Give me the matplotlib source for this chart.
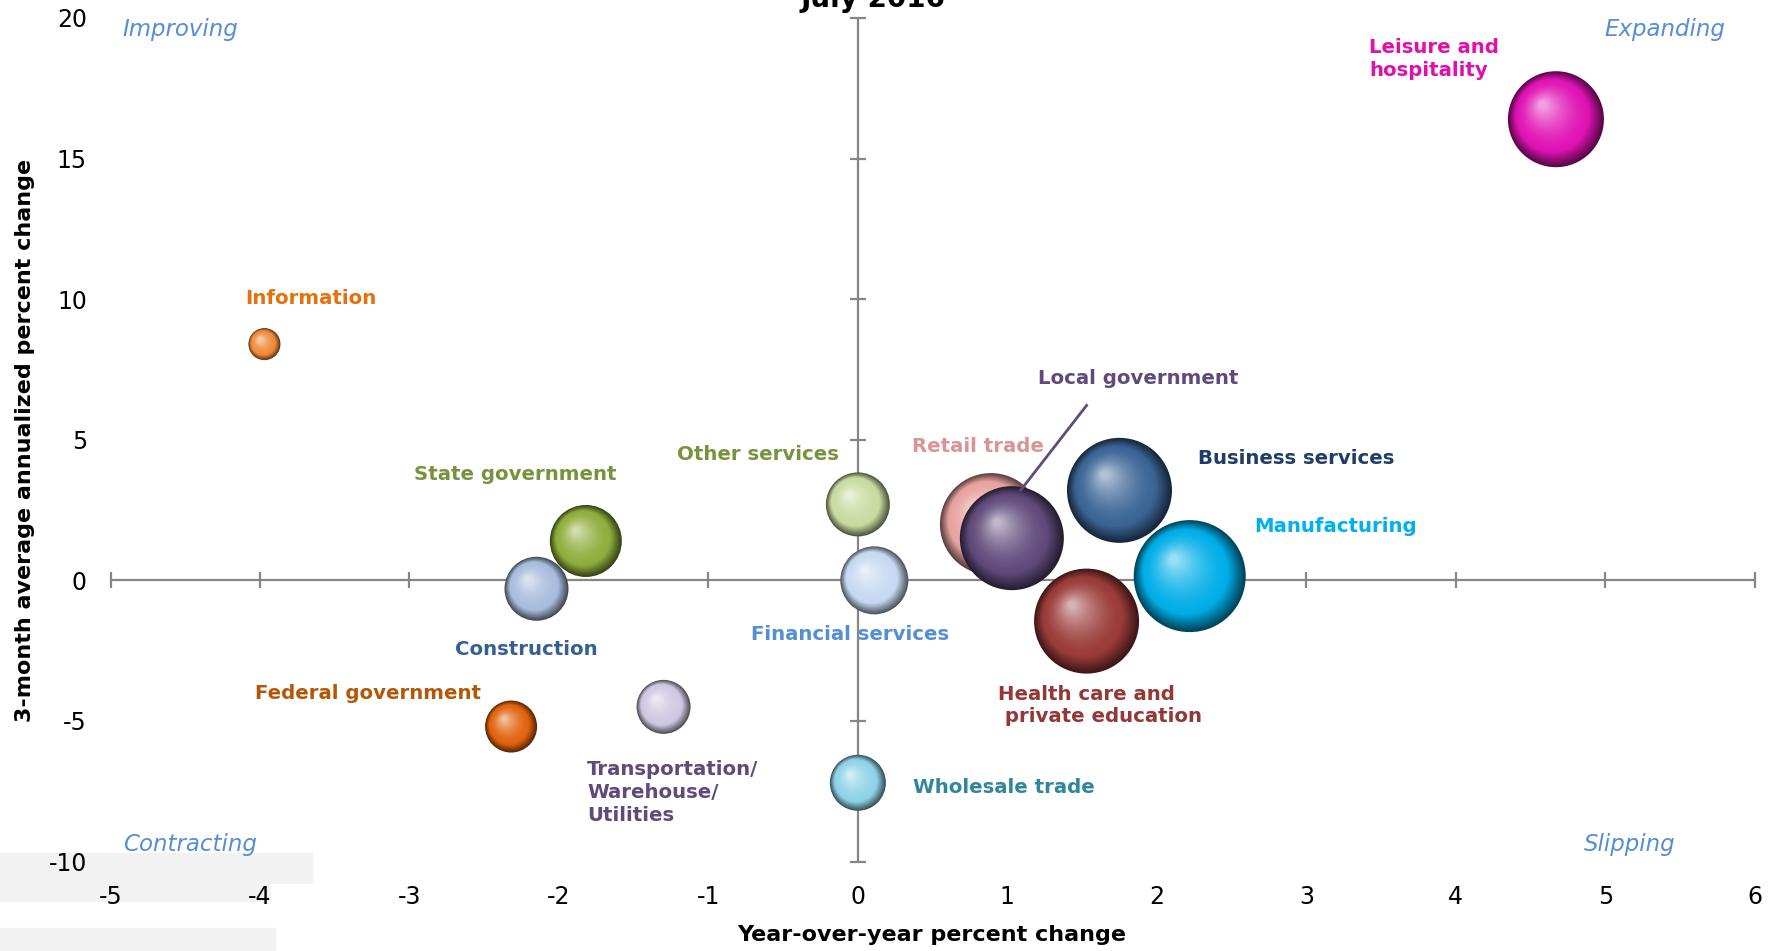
import numpy as np
import matplotlib
matplotlib.use("Agg")
import matplotlib.pyplot as plt
from matplotlib.colors import to_rgb
from matplotlib.transforms import offset_copy
from matplotlib.patches import Rectangle

plt.rcParams['font.family'] = ['DejaVu Sans']
plt.rcParams['axes.unicode_minus'] = False

# data
sectors = ['Leisure and hospitality', 'Information', 'State government', 'Construction',
           'Federal government', 'Transportation/Warehouse/Utilities', 'Other services',
           'Financial services', 'Wholesale trade', 'Retail trade', 'Local government',
           'Business services', 'Health care and private education', 'Manufacturing']
yoy = [4.67, -3.97, -1.82, -2.15, -2.32, -1.30, 0.0, 0.11, 0.0, 0.89, 1.03, 1.75, 1.53, 2.22]
three_month = [16.4, 8.4, 1.4, -0.3, -5.2, -4.5, 2.7, 0.0, -7.2, 2.0, 1.5, 3.2, -1.45, 0.15]
weight = [48, 16, 36, 32, 26, 27, 32, 34, 28, 51, 52, 52.5, 52.5, 56]
colors = ['#e012b4', '#f08a3a', '#8fae3c', '#a8bcdc', '#e2630e', '#cfc8e2', '#c8dba0',
          '#c6d9f1', '#8fd3e8', '#e8a3a0', '#604a7b', '#3b6596', '#9a3b38', '#00aee8']

labels = ['Leisure and\nhospitality', 'Information', 'State government', 'Construction',
          'Federal government', 'Transportation/\nWarehouse/\nUtilities', 'Other services',
          'Financial services', 'Wholesale trade', 'Retail trade', 'Local government',
          'Business services', 'Health care and\n private education', 'Manufacturing']
label_x = [3.42, -3.66, -2.29, -2.215, -3.28, -1.81, -0.67, -0.05, 0.37, 0.80, 1.875, 2.275, 0.94, 2.65]
label_y = [18.55, 10.03, 3.77, -2.45, -4.01, -7.54, 4.49, -1.93, -7.38, 4.77, 7.18, 4.33, -4.45, 1.93]
label_ha = ['left', 'center', 'center', 'center', 'center', 'left', 'center', 'center',
            'left', 'center', 'center', 'left', 'left', 'left']
label_colors = ['#e010a8', '#e8700a', '#77933c', '#376092', '#b65708', '#604a7b', '#77933c',
                '#558ed5', '#31859c', '#d99594', '#604a7b', '#1f3d68', '#953735', '#00b0f0']

quadrants = ['Improving', 'Expanding', 'Contracting', 'Slipping']
quad_x = [-4.53, 5.40, -4.47, 5.16]
quad_y = [19.6, 19.6, -9.39, -9.39]

xticks = [-5, -4, -3, -2, -1, 0, 1, 2, 3, 4, 5, 6]
yticks = [-10, -5, 0, 5, 10, 15, 20]

fig = plt.figure(figsize=(17.68, 9.51), dpi=100)
ax = fig.add_axes([0.0625, 0.0941, 0.930, 0.887])
ax.set_xlim(-5, 6)
ax.set_ylim(-10, 20)

# light grey boxes in the lower left corner
for (x0, y0, w, h) in [(0, 853, 312, 30), (0, 883, 270, 18), (0, 928, 275, 23)]:
    fig.patches.append(Rectangle((x0 / 1768, 1 - (y0 + h) / 951), w / 1768, h / 951,
                                 transform=fig.transFigure, color='#f2f2f2', zorder=-10))

for s in ax.spines.values():
    s.set_visible(False)
ax.set_facecolor('none')

# axes crossing at the origin, with crossing tick marks
ax.axhline(0, color='#868686', lw=1.6, zorder=1)
ax.axvline(0, color='#868686', lw=1.6, zorder=1)
ax.plot(xticks, [0] * len(xticks), ls='none', marker='|', ms=12, mew=1.6, color='#868686', zorder=1, clip_on=False)
ax.plot([0] * len(yticks), yticks, ls='none', marker='_', ms=12, mew=1.6, color='#868686', zorder=1, clip_on=False)

ax.set_xticks(xticks)
ax.set_yticks(yticks)
ax.tick_params(length=0, labelsize=17)
ax.tick_params(axis='x', pad=17)
ax.tick_params(axis='y', pad=17)


def sphere(x, y, r, color, z):
    base = np.array(to_rgb(color))
    n = 30
    for i, t in enumerate(np.linspace(0, 1, n)):
        rr = r * (1 - 0.92 * t)
        dx = -0.28 * r * t * 0.72
        dy = 0.30 * r * t * 0.72
        if t < 0.25:
            c = base * (0.40 + 0.60 * t / 0.25)
        else:
            k = (t - 0.25) / 0.75
            c = base + (1 - base) * 0.6 * k ** 1.6
        tr = offset_copy(ax.transData, fig=fig, x=dx, y=dy, units='points')
        ax.scatter([x], [y], s=(1.44 * rr) ** 2, color=np.clip(c, 0, 1), edgecolors='none',
                   transform=tr, zorder=z + i * 0.001)


for i in range(len(sectors)):
    sphere(yoy[i], three_month[i], weight[i], colors[i], 2 + i * 0.1)

for i in range(len(labels)):
    ax.text(label_x[i], label_y[i], labels[i], ha=label_ha[i], va='center', fontsize=14.2,
            fontweight='bold', color=label_colors[i], linespacing=1.25, zorder=10)

# leader line for Local government
ax.plot([1.53, 1.09], [6.22, 3.21], color='#604a7b', lw=2, zorder=5)

for q, qx, qy in zip(quadrants, quad_x, quad_y):
    ax.text(qx, qy, q, ha='center', va='center', fontsize=16.5, style='italic', color='#558ed5')

fig.text(932 / 1768, 1 - 935 / 951, 'Year-over-year percent change', ha='center', va='center',
         fontsize=16, fontweight='bold')
fig.text(25 / 1768, 1 - 440 / 951, '3-month average annualized percent change', ha='center',
         va='center', rotation=90, fontsize=16, fontweight='bold')
fig.text(873 / 1768, 1 - 7 / 951, 'July 2016', ha='center', va='baseline', fontsize=20,
         fontweight='bold')

fig.savefig('out.png', dpi=100)
